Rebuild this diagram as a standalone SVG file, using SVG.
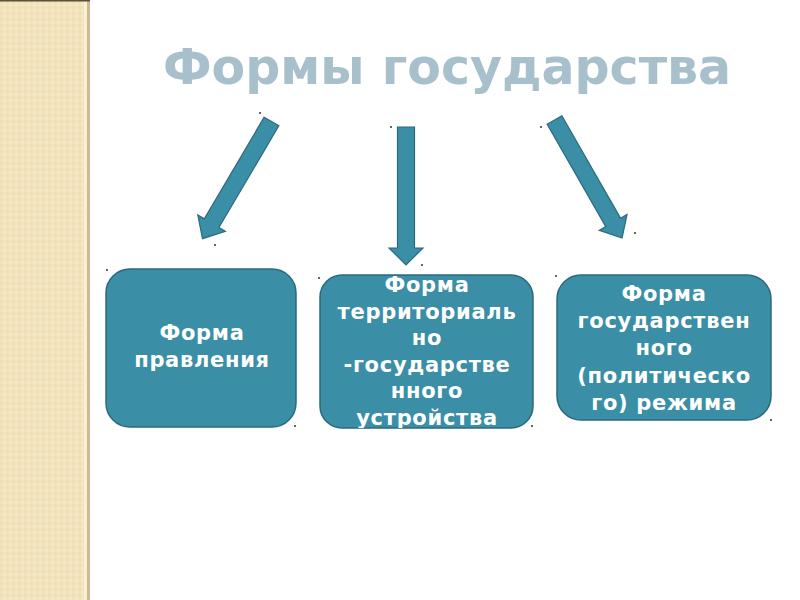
<svg xmlns="http://www.w3.org/2000/svg" width="800" height="600" viewBox="0 0 800 600">
  <defs>
    <pattern id="weave" width="6" height="6" patternUnits="userSpaceOnUse">
      <rect width="6" height="6" fill="#f3e3bd"/>
      <rect width="3" height="3" fill="#f0dfb5"/>
      <rect x="3" y="3" width="3" height="3" fill="#f5e8c5"/>
    </pattern>
    <clipPath id="clip2"><rect x="320" y="275" width="213" height="153" rx="22"/></clipPath>
    <style>
      .box { fill: #3a8ea6; stroke: #2b6a7c; stroke-width: 1.5; }
      .arrow { fill: #3a8ea6; stroke: #2b6a7c; stroke-width: 1.2; stroke-linejoin: miter; }
      .lbl { font-family: "DejaVu Sans", "Liberation Sans", sans-serif; font-weight: bold; font-size: 21px; fill: #ffffff; text-anchor: middle; letter-spacing: 0.7px; }
      .title { font-family: "DejaVu Sans", "Liberation Sans", sans-serif; font-weight: bold; font-size: 49px; fill: #a8c0cc; }
      .dot { fill: #333333; }
    </style>
  </defs>
  <rect width="800" height="600" fill="#ffffff"/>
  <g id="band">
    <rect x="0" y="0" width="84" height="600" fill="url(#weave)"/>
    <rect x="84" y="0" width="3" height="600" fill="#f8efd6"/>
    <rect x="87" y="0" width="3" height="600" fill="#cdbb90"/>
    <rect x="0" y="0" width="90" height="1.5" fill="#5a5040"/>
  </g>
  <g id="title">
    <text class="title" x="447" y="84" text-anchor="middle">Формы государства</text>
  </g>
  <g id="connectors">
    <path class="arrow" transform="translate(271.5,121.5) rotate(30.5)" d="M-8.5,0 L8.5,0 L8.5,118 L16,118 L0,136 L-16,118 L-8.5,118 Z"/>
    <path class="arrow" transform="translate(406,127)" d="M-8.5,0 L8.5,0 L8.5,121 L17,121 L0,138 L-17,121 L-8.5,121 Z"/>
    <path class="arrow" transform="translate(554.5,120) rotate(-29.8)" d="M-8.5,0 L8.5,0 L8.5,118 L16,118 L0,136 L-16,118 L-8.5,118 Z"/>
  </g>
  <g id="node1">
    <rect class="box" x="106" y="269" width="190" height="158" rx="24"/>
    <text class="lbl" x="202" y="340">Форма</text>
    <text class="lbl" x="202" y="367">правления</text>
  </g>
  <g id="node2">
    <rect class="box" x="320" y="275" width="213" height="153" rx="22"/>
    <g clip-path="url(#clip2)">
      <text class="lbl" x="427" y="292">Форма</text>
      <text class="lbl" x="427" y="319">территориаль</text>
      <text class="lbl" x="427" y="345">но</text>
      <text class="lbl" x="427" y="372">-государстве</text>
      <text class="lbl" x="427" y="398">нного</text>
      <text class="lbl" x="427" y="425">устройства</text>
    </g>
  </g>
  <g id="node3">
    <rect class="box" x="557" y="275" width="214" height="145" rx="24"/>
    <text class="lbl" x="664" y="301">Форма</text>
    <text class="lbl" x="664" y="328">государствен</text>
    <text class="lbl" x="664" y="355">ного</text>
    <text class="lbl" x="664" y="383">(политическо</text>
    <text class="lbl" x="664" y="410">го) режима</text>
  </g>
  <g id="marks">
    <circle class="dot" cx="260" cy="113" r="1"/>
    <circle class="dot" cx="215" cy="245" r="1"/>
    <circle class="dot" cx="391" cy="127" r="1"/>
    <circle class="dot" cx="422" cy="265" r="1"/>
    <circle class="dot" cx="541" cy="127" r="1"/>
    <circle class="dot" cx="635" cy="233" r="1"/>
    <circle class="dot" cx="107" cy="270" r="1"/>
    <circle class="dot" cx="295" cy="426" r="1"/>
    <circle class="dot" cx="319" cy="278" r="1"/>
    <circle class="dot" cx="532" cy="426" r="1"/>
    <circle class="dot" cx="556" cy="276" r="1"/>
    <circle class="dot" cx="771" cy="420" r="1"/>
  </g>
</svg>
